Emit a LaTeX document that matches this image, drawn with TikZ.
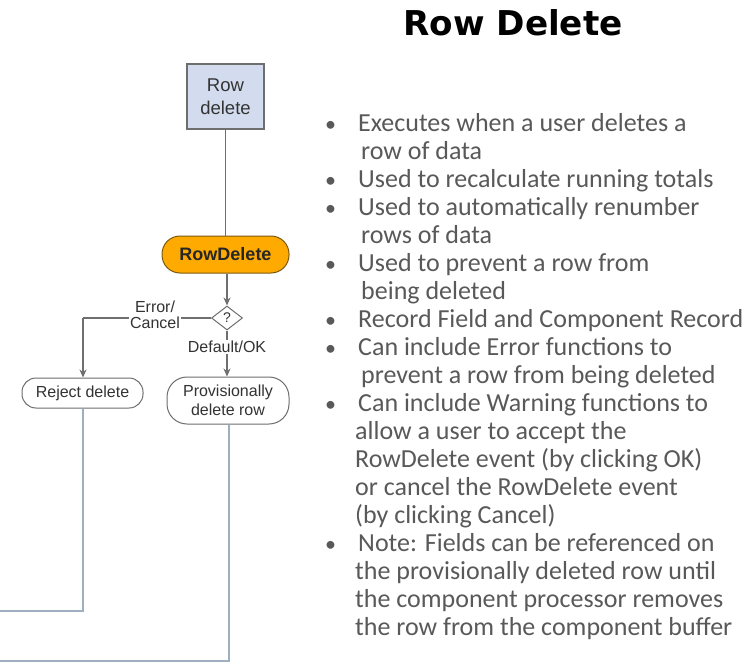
\documentclass[tikz,border=0pt]{standalone}
\usepackage{fontspec}
\setmainfont{Carlito}
\newfontfamily\diagfont{Liberation Sans}
\newfontfamily\titlefont{DejaVu Sans}
\usetikzlibrary{shapes.geometric,arrows.meta}
\definecolor{bodygray}{HTML}{595959}
\definecolor{diaggray}{HTML}{333333}
\definecolor{boxblue}{HTML}{D3DCEE}
\definecolor{boxedge}{HTML}{6E6E6E}
\definecolor{evorange}{HTML}{FFAA00}
\definecolor{evedge}{HTML}{7A5A10}
\definecolor{exitline}{HTML}{9EB0C0}
\definecolor{flowline}{HTML}{6F6F6F}
\tikzset{
  x=1pt, y=-1pt,
  bodytext/.style={anchor=base west, inner sep=0pt, text=bodygray, font=\fontsize{26}{28}\selectfont},
  bulletmark/.style={anchor=base west, inner sep=0pt, text=bodygray, font=\fontsize{22}{28}\selectfont},
  pillbox/.style={draw=boxedge, line width=1pt, rounded corners=14pt, fill=white, text=diaggray, font=\diagfont\fontsize{16}{18.5}\selectfont, align=center},
  flow/.style={draw=flowline, line width=1.5pt},
  flowarrow/.style={flow, -{Stealth[length=8pt,width=7pt]}},
  exitpath/.style={draw=exitline, line width=2.2pt},
  lbl/.style={text=diaggray, font=\diagfont\fontsize{16}{18}\selectfont, inner sep=1pt, align=center}
}
\begin{document}
\begin{tikzpicture}
\useasboundingbox (0,0) rectangle (752,669);
\fill[white] (0,0) rectangle (752,669);

% title
\node[anchor=base, inner sep=0pt, font=\titlefont\bfseries\fontsize{34.2}{36}\selectfont, text=black] (title) at (513,36) {Row Delete};

% diagram nodes
\node[draw=boxedge, line width=1.2pt, fill=boxblue, minimum width=77pt, minimum height=65pt, text=diaggray, font=\diagfont\fontsize{18.5}{23}\selectfont, align=center] (rowbox) at (225.5,96.5) {Row\\delete};
\node[draw=evedge, line width=1pt, fill=evorange, rounded corners=18pt, minimum width=127pt, minimum height=37pt, text=black!85, font=\diagfont\bfseries\fontsize{18}{20}\selectfont] (event) at (225.5,254.5) {RowDelete};
\node[diamond, draw=boxedge, line width=1pt, fill=white, minimum width=31pt, minimum height=24pt, inner sep=0pt, text=diaggray, font=\diagfont\fontsize{14}{16}\selectfont] (dec) at (227,318) {?};
\node[pillbox, minimum width=121pt, minimum height=30pt] (reject) at (82.5,393) {Reject delete};
\node[pillbox, minimum width=122pt, minimum height=47pt, rounded corners=20pt] (prov) at (228,400.5) {Provisionally\\delete row};

\coordinate (lcorner) at (83,318);
\coordinate (rejend) at (83,611);
\coordinate (rejout) at (0,611);
\coordinate (provend) at (229,661);
\coordinate (provout) at (0,661);

% connectors
\draw[flow] (rowbox.south) -- (event.north);
\draw[flowarrow] (event.south -| dec.north) -- (dec.north);
\draw[flow] (dec.west) -- (lcorner);
\draw[flowarrow] (lcorner) -- (reject.north -| lcorner);
\draw[flowarrow] (dec.south) -- (prov.north -| dec.south);
\node[lbl, fill=white] (errlbl) at (155,315) {Error/\\[-2pt]Cancel};
\node[lbl, fill=white, anchor=north] (oklbl) at (227,340) {Default/OK};

\draw[exitpath] (reject.south -| rejend) -- (rejend) -- (rejout);
\draw[exitpath] (prov.south -| provend) -- (provend) -- (provout);

% bullet text
\foreach \i/\xx/\b/\t in {
 1/358/1/{Executes when a user deletes a},
 2/361/0/{row of data},
 3/358/1/{Used to recalculate running totals},
 4/358/1/{Used to automatically renumber},
 5/361/0/{rows of data},
 6/358/1/{Used to prevent a row from},
 7/361/0/{being deleted},
 8/358/1/{Record Field and Component Record},
 9/358/1/{Can include Error functions to},
 10/361/0/{prevent a row from being deleted},
 11/358/1/{Can include Warning functions to},
 12/355/0/{allow a user to accept the},
 13/355/0/{RowDelete event (by clicking OK)},
 14/355/0/{or cancel the RowDelete event},
 15/355/0/{(by clicking Cancel)},
 16/358/1/{Note: Fields can be referenced on},
 17/355/0/{the provisionally deleted row until},
 18/355/0/{the component processor removes},
 19/355/0/{the row from the component buffer}}{
  \node[bodytext] (line\i) at (\xx,{131+28*(\i-1)}) {\t};
  \ifnum\b=1
    \node[bulletmark] (bul\i) at (325,{131+28*(\i-1)}) {•};
  \fi
}
\end{tikzpicture}
\end{document}
